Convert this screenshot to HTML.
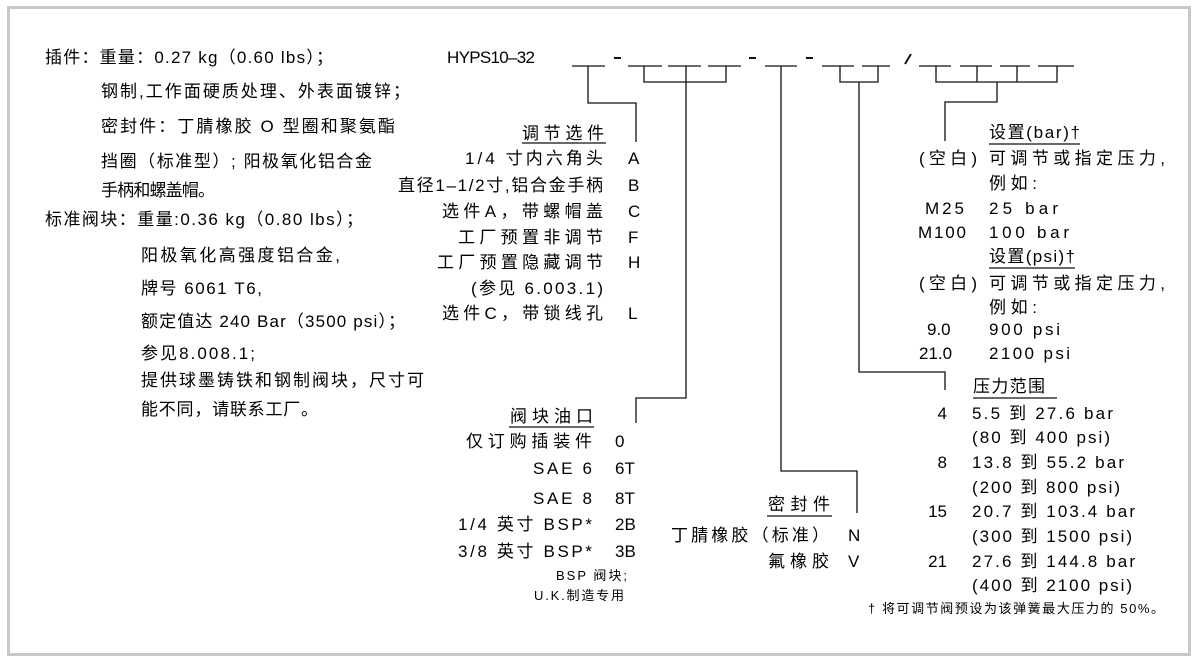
<!DOCTYPE html>
<html><head><meta charset="utf-8"><style>
html,body{margin:0;padding:0;background:#fff;width:1196px;height:666px;overflow:hidden}
svg{display:block}
text{font-family:"Liberation Sans","Noto Sans CJK SC",sans-serif;font-size:17px;fill:#000}
.s{font-size:13px}
</style></head><body>
<svg width="1196" height="666" viewBox="0 0 1196 666" xmlns="http://www.w3.org/2000/svg">
<rect x="8.5" y="7.5" width="1181" height="647" fill="#fff" stroke="#c8c8c8" stroke-width="3"/>
<g stroke="#111" stroke-width="1.3" fill="none">
<path d="M572 66H605M628 66H662M668 66H701M708 66H741M765 66H797M822 66H854M862 66H890M919 66H951M960 66H992M1000 66H1030M1038 66H1074"/>
<path d="M614 58H621M749 58H756M806 58H813" stroke-width="2"/>
<path d="M911 54L905 64" stroke-width="2"/>
<path d="M588 66V103H636V142"/>
<path d="M644 66V82H726V66M686 66V398H636V423"/>
<path d="M781 66V471H857V513"/>
<path d="M840 66V82H878V66M859 82V372H945V390"/>
<path d="M936 66V82H1057V66M977 66V82M1017 66V82M997 82V102H945V141"/>
<path d="M522 143H606M509 427H594M767 516H832M989 144H1080M989 268H1075M973 398H1057"/>
</g>
<text x="447" y="63" textLength="88">HYPS10–32</text>

<text x="45" y="63" textLength="288">插件：重量：0.27 kg（0.60 lbs）；</text>
<text x="101" y="97" textLength="309">钢制,工作面硬质处理、外表面镀锌；</text>
<text x="101" y="132" textLength="294">密封件：丁腈橡胶 O 型圈和聚氨酯</text>
<text x="101" y="167" textLength="271">挡圈（标准型）; 阳极氧化铝合金</text>
<text x="101" y="196" textLength="114">手柄和螺盖帽。</text>
<text x="45" y="225" textLength="318">标准阀块：重量:0.36 kg（0.80 lbs）；</text>
<text x="141" y="261" textLength="199">阳极氧化高强度铝合金,</text>
<text x="141" y="294" textLength="121">牌号 6061 T6,</text>
<text x="141" y="327" textLength="264">额定值达 240 Bar（3500 psi）；</text>
<text x="141" y="359" textLength="114">参见8.008.1;</text>
<text x="141" y="386" textLength="283">提供球墨铸铁和钢制阀块，尺寸可</text>
<text x="141" y="415" textLength="177">能不同，请联系工厂。</text>

<text x="522" y="139" textLength="82">调节选件</text>
<text x="465" y="164" textLength="138">1/4 寸内六角头</text>
<text x="398" y="191" textLength="205">直径1–1/2寸,铝合金手柄</text>
<text x="442" y="217" textLength="161">选件A，带螺帽盖</text>
<text x="458" y="243" textLength="145">工厂预置非调节</text>
<text x="437" y="268" textLength="166">工厂预置隐藏调节</text>
<text x="471" y="294" textLength="132">(参见 6.003.1)</text>
<text x="442" y="319" textLength="161">选件C，带锁线孔</text>
<text x="628" y="164">A</text><text x="628" y="191">B</text><text x="628" y="217">C</text>
<text x="628" y="243">F</text><text x="628" y="268">H</text><text x="628" y="319">L</text>

<text x="510" y="422" textLength="83">阀块油口</text>
<text x="466" y="447" textLength="126">仅订购插装件</text>
<text x="533" y="474" textLength="59">SAE 6</text>
<text x="533" y="504" textLength="59">SAE 8</text>
<text x="458" y="530" textLength="134">1/4 英寸 BSP*</text>
<text x="458" y="557" textLength="134">3/8 英寸 BSP*</text>
<text x="615" y="447">0</text><text x="615" y="474">6T</text><text x="615" y="504">8T</text>
<text x="615" y="530">2B</text><text x="615" y="557">3B</text>
<text class="s" x="556" y="580" textLength="71">BSP 阀块;</text>
<text class="s" x="534" y="600" textLength="90">U.K.制造专用</text>

<text x="768" y="510" textLength="62">密封件</text>
<text x="671" y="541" textLength="158">丁腈橡胶（标准）</text>
<text x="768" y="567" textLength="61">氟橡胶</text>
<text x="848" y="541">N</text><text x="848" y="567">V</text>

<text x="989" y="138" textLength="91">设置(bar)†</text>
<text x="919" y="164" textLength="58">(空白)</text>
<text x="989" y="164" textLength="176">可调节或指定压力,</text>
<text x="989" y="189" textLength="48">例如:</text>
<text x="925" y="214" textLength="39">M25</text><text x="989" y="214" textLength="69">25 bar</text>
<text x="918" y="238" textLength="48">M100</text><text x="989" y="238" textLength="80">100 bar</text>
<text x="989" y="262" textLength="86">设置(psi)†</text>
<text x="919" y="289" textLength="58">(空白)</text>
<text x="989" y="289" textLength="176">可调节或指定压力,</text>
<text x="989" y="313" textLength="48">例如:</text>
<text x="927" y="335">9.0</text><text x="989" y="335" textLength="71">900 psi</text>
<text x="919" y="359">21.0</text><text x="989" y="359" textLength="81">2100 psi</text>

<text x="973" y="392" textLength="72">压力范围</text>
<text x="947" y="419" text-anchor="end">4</text><text x="972" y="419" textLength="141">5.5 到 27.6 bar</text>
<text x="972" y="443" textLength="138">(80 到 400 psi)</text>
<text x="947" y="468" text-anchor="end">8</text><text x="972" y="468" textLength="152">13.8 到 55.2 bar</text>
<text x="972" y="493" textLength="148">(200 到 800 psi)</text>
<text x="947" y="517" text-anchor="end">15</text><text x="972" y="517" textLength="163">20.7 到 103.4 bar</text>
<text x="972" y="542" textLength="160">(300 到 1500 psi)</text>
<text x="947" y="567" text-anchor="end">21</text><text x="972" y="567" textLength="163">27.6 到 144.8 bar</text>
<text x="972" y="591" textLength="160">(400 到 2100 psi)</text>
<text class="s" x="868" y="613" textLength="296">† 将可调节阀预设为该弹簧最大压力的 50%。</text>
</svg>
</body></html>
